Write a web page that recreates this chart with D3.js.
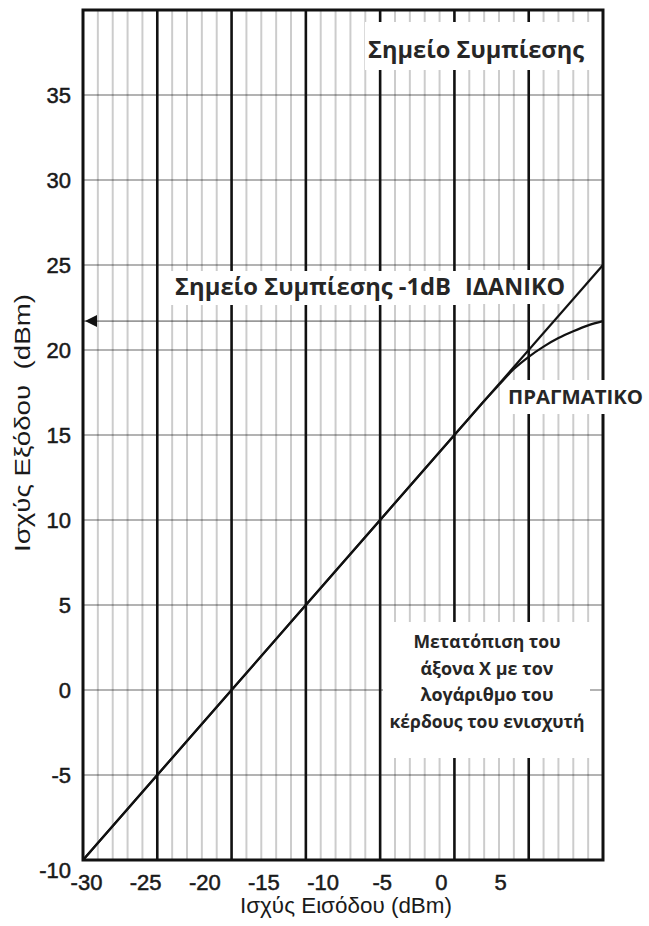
<!DOCTYPE html>
<html>
<head>
<meta charset="utf-8">
<script src="https://cdn.jsdelivr.net/npm/d3@7"></script>
<style>
  body { margin: 0; background: #fff; }
  svg { display: block; }
  .tick text { fill: #1a1a1a; stroke: #1a1a1a; stroke-width: 0.5; }
  .note { font-family: "Open Sans", sans-serif; font-weight: 700; fill: #262626; }
</style>
</head>
<body>
<svg width="649" height="926"></svg>
<script>
// tick labels
const xTickLabels = [-30, -25, -20, -15, -10, -5, 0, 5]
const yTickLabels = [-10, -5, 0, 5, 10, 15, 20, 25, 30, 35]

// ideal (linear) response, input dB -> output dB
const idealIn = [-30, 5]
const idealOut = [-10, 25]

// real response, follows the ideal then bends over near the top
const realIn = [-30, -20, -10, -5, -4, -3, -2, -1, 0, 1, 2, 3, 4, 5]
const realOut = [-10, 0, 10, 15, 16, 17, 17.95, 18.88, 19.6, 20.2, 20.7, 21.1, 21.45, 21.7]

// output level marked on the left edge
const compressionOut = 21.7

const noteLines = ["Μετατόπιση του", "άξονα X με τον", "λογάριθμο του", "κέρδους του ενισχυτή"]

const svg = d3.select("svg")

const plotL = 83, plotR = 603, plotT = 10, plotB = 860

const x = d3.scaleLinear()
    .domain([-30, 5])
    .range([plotL, plotR])

// labels sit on their own, shifted scale
const xLabel = d3.scaleLinear()
    .domain([-30, 5])
    .range([86, 500])

const y = d3.scaleLinear()
    .domain([-10, 40])
    .range([plotB, plotT])

const grid = svg.append("g")

// horizontal lines
grid.selectAll("line.h")
    .data(y.ticks(10).filter(d => d > -10 && d < 40).concat([compressionOut]))
    .enter()
    .append("line")
    .attr("class","h")
    .attr("x1",plotL)
    .attr("x2",plotR)
    .attr("y1",d => y(d))
    .attr("y2",d => y(d))
    .attr("stroke","#000")
    .attr("stroke-opacity",0.4)
    .attr("stroke-width",1.6)

// thin vertical lines every dB
grid.selectAll("line.minor")
    .data(x.ticks(35).filter(d => d % 5 !== 0))
    .enter()
    .append("line")
    .attr("class","minor")
    .attr("x1",d => x(d))
    .attr("x2",d => x(d))
    .attr("y1",plotT)
    .attr("y2",plotB)
    .attr("stroke","#000")
    .attr("stroke-opacity",0.2)
    .attr("stroke-width",2)

// bold vertical lines every 5 dB
grid.selectAll("line.major")
    .data(x.ticks(7).filter(d => d > -30 && d < 5))
    .enter()
    .append("line")
    .attr("class","major")
    .attr("x1",d => x(d))
    .attr("x2",d => x(d))
    .attr("y1",plotT)
    .attr("y2",plotB)
    .attr("stroke","#111")
    .attr("stroke-width",2.6)

// text annotations with white backing
const notes = svg.append("g")

const addNote = function(txt, bx, by, bw, bh, tx, ty, size, len){
    notes.append("rect")
        .attr("x",bx).attr("y",by)
        .attr("width",bw).attr("height",bh)
        .attr("fill","#fff")
    notes.append("text")
        .attr("class","note")
        .attr("x",tx).attr("y",ty)
        .attr("font-size",size)
        .attr("textLength",len)
        .attr("lengthAdjust","spacingAndGlyphs")
        .text(txt)
}

addNote("Σημείο Συμπίεσης", 365, 22, 233, 48, 368, 58, 24, 216)
addNote("Σημείο Συμπίεσης -1dB", 165, 271, 293, 34, 175, 295, 23, 276)
addNote("ΙΔΑΝΙΚΟ", 460, 270, 110, 34, 465, 295, 23, 100)
addNote("ΠΡΑΓΜΑΤΙΚΟ", 503, 380, 146, 34, 508, 404, 20, 135)

notes.append("rect")
    .attr("x",383).attr("y",622)
    .attr("width",207).attr("height",136)
    .attr("fill","#fff")

const noteWidths = [147, 133, 133, 195]
notes.selectAll("text.box")
    .data(noteLines)
    .enter()
    .append("text")
    .attr("class","note box")
    .attr("x",487)
    .attr("y",(d,i) => 648 + i*26.7)
    .attr("text-anchor","middle")
    .attr("font-size",17.5)
    .attr("font-weight",600)
    .attr("textLength",(d,i) => noteWidths[i])
    .attr("lengthAdjust","spacingAndGlyphs")
    .text(d => d)

// response lines
const line = d3.line()
    .x(d => x(d[0]))
    .y(d => y(d[1]))

svg.append("path")
    .datum(idealIn.map((d,i) => [d, idealOut[i]]))
    .attr("d",line)
    .attr("fill","none")
    .attr("stroke","#111")
    .attr("stroke-width",2.2)

svg.append("path")
    .datum(realIn.map((d,i) => [d, realOut[i]]))
    .attr("d",line.curve(d3.curveMonotoneX))
    .attr("fill","none")
    .attr("stroke","#111")
    .attr("stroke-width",2.2)

// frame, broken where ΠΡΑΓΜΑΤΙΚΟ crosses it
svg.append("path")
    .attr("d",`M${plotR},380 V${plotT} H${plotL} V${plotB} H${plotR} V414`)
    .attr("fill","none")
    .attr("stroke","#111")
    .attr("stroke-width",3)

// marker on the left edge
const my = y(compressionOut)
svg.append("path")
    .attr("d",`M${plotL+2},${my} L${plotL+14},${my-6} L${plotL+14},${my+6} Z`)
    .attr("fill","#111")

// axes
const axisY = svg.append("g")
    .attr("transform",`translate(${plotL},0)`)
    .call(d3.axisLeft(y).tickValues(yTickLabels).tickFormat(d => String(d)).tickSize(0).tickPadding(12))
axisY.select(".domain").remove()
axisY.selectAll("text")
    .attr("font-family","'Liberation Sans', Arial, sans-serif")
    .attr("font-size",22)
axisY.selectAll(".tick")
    .filter(d => d === -10)
    .select("text")
    .attr("dy","0.32em")
    .attr("y",10)

const axisX = svg.append("g")
    .attr("transform",`translate(0,${plotB})`)
    .call(d3.axisBottom(xLabel).tickValues(xTickLabels).tickFormat(d => String(d)).tickSize(0).tickPadding(14))
axisX.select(".domain").remove()
axisX.selectAll("text")
    .attr("font-family","'Liberation Sans', Arial, sans-serif")
    .attr("font-size",22)

svg.append("text")
    .attr("x",346)
    .attr("y",913)
    .attr("text-anchor","middle")
    .attr("font-family","'Liberation Sans', Arial, sans-serif")
    .attr("font-size",22)
    .attr("fill","#1a1a1a")
    .attr("textLength",212)
    .attr("lengthAdjust","spacingAndGlyphs")
    .text("Ισχύς Εισόδου (dBm)")

svg.append("text")
    .attr("transform","translate(30,423) rotate(-90)")
    .attr("text-anchor","middle")
    .attr("font-family","'Liberation Sans', Arial, sans-serif")
    .attr("font-size",22)
    .attr("fill","#1a1a1a")
    .attr("textLength",258)
    .attr("lengthAdjust","spacingAndGlyphs")
    .style("white-space","pre")
    .text("Ισχύς Εξόδου  (dBm)")
</script>
</body>
</html>
